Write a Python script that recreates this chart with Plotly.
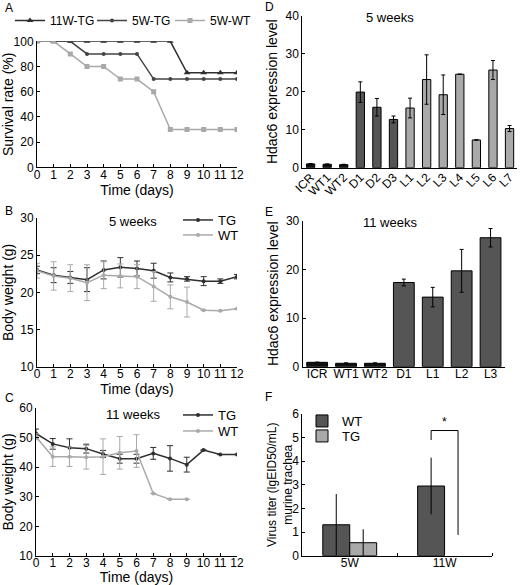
import plotly.graph_objects as go

W, H = 520, 585
FONT = "Liberation Sans, Arial, sans-serif"
DARK = "#2f2f2f"
MID = "#555555"
LIGHT = "#a9a9a9"

# ---- A: survival ----
days = list(range(13))
surv_11w_tg = [100, 100, 100, 100, 100, 100, 100, 100, 100, 75, 75, 75, 75]
surv_5w_tg = [100, 100, 100, 90, 90, 90, 90, 70, 70, 70, 70, 70, 70]
surv_5w_wt = [100, 100, 90, 80, 80, 70, 70, 60, 30, 30, 30, 30, 30]

# ---- B: body weight 5 weeks ----
bw5_tg = [23.0, 22.3, 22.0, 21.7, 23.0, 23.35, 23.2, 22.9, 22.0, 21.8, 21.5, 21.5, 22.1]
bw5_tg_err = [0.5, 1.0, 0.8, 1.6, 1.2, 1.3, 1.0, 1.0, 0.6, 0.3, 0.6, 0.3, 0.3]
bw5_wt = [22.9, 22.2, 21.9, 21.3, 22.3, 22.2, 22.1, 20.8, 19.4, 18.7, 17.6, 17.55, 17.8]
bw5_wt_err = [1.0, 1.9, 1.8, 2.4, 1.8, 1.6, 1.6, 2.0, 1.6, 2.0, 0, 0, 0]

# ---- C: body weight 11 weeks ----
bw11_tg = [51.3, 47.8, 46.5, 46.2, 44.4, 42.8, 42.8, 44.6, 42.9, 40.8, 45.7, 44.2, 44.2]
bw11_tg_err = [1.5, 1.8, 3.0, 1.5, 1.2, 1.5, 1.5, 2.0, 4.3, 2.5, 0, 0, 0]
days_wt11 = list(range(10))
bw11_wt = [50.2, 43.5, 43.5, 43.3, 43.5, 44.8, 45.4, 31.1, 29.1, 29.1]
bw11_wt_err = [1.0, 3.3, 3.3, 4.0, 6.0, 5.5, 5.5, 0, 0, 0]

# ---- D: Hdac6 5 weeks ----
d_cats = ["ICR", "WT1", "WT2", "D1", "D2", "D3", "L1", "L2", "L3", "L4", "L5", "L6", "L7"]
d_vals = [1.0, 0.9, 0.8, 19.9, 15.9, 12.7, 15.7, 23.2, 19.2, 24.6, 7.3, 25.7, 10.3]
d_err = [0.1, 0.1, 0.1, 2.7, 2.3, 0.9, 2.6, 6.5, 5.2, 0, 0, 2.5, 0.8]
d_group = ["ctrl"] * 3 + ["D"] * 3 + ["L"] * 7

# ---- E: Hdac6 11 weeks ----
e_cats = ["ICR", "WT1", "WT2", "D1", "L1", "L2", "L3"]
e_vals = [0.9, 0.7, 0.7, 17.3, 14.3, 19.7, 26.5]
e_err = [0.05, 0.1, 0.1, 0.7, 2.0, 4.4, 1.9]
e_group = ["ctrl"] * 3 + ["D"] * 4

# ---- F: virus titer (TG at 11W not detected) ----
f_cats = ["5W", "11W"]
f_wt = [1.31, 2.95]
f_wt_err = [1.3, 1.2]
f_tg = [0.55, None]
f_tg_err = [0.57, None]

grp_color = {"ctrl": "#111111", "D": MID, "L": LIGHT}


def px_x(a, b):
    return [a / W, b / W]


def px_y(top, bottom):
    return [1 - bottom / H, 1 - top / H]


def axis(domain, anchor, **kw):
    base = dict(domain=domain, anchor=anchor, showline=True, linecolor="black",
                linewidth=1, ticks="inside", ticklen=3, tickcolor="black",
                showgrid=False, zeroline=False, automargin=False,
                tickfont=dict(size=12, color="black"))
    base.update(kw)
    return base


def line_trace(x, y, name, color, legend, xa, ya, symbol="circle", size=4, err=None):
    kw = {}
    if err is not None:
        kw["error_y"] = dict(type="data", array=err, color=color, thickness=1, width=3)
    return go.Scatter(x=x, y=y, name=name, mode="lines+markers",
                      line=dict(color=color, width=1.5),
                      marker=dict(symbol=symbol, size=size, color=color),
                      xaxis=xa, yaxis=ya, legend=legend, **kw)


fig = go.Figure()

# A
fig.add_trace(line_trace(days, surv_11w_tg, "11W-TG", DARK, "legend", "x", "y", "triangle-up", 6))
fig.add_trace(line_trace(days, surv_5w_tg, "5W-TG", "#444444", "legend2", "x", "y"))
fig.add_trace(line_trace(days, surv_5w_wt, "5W-WT", LIGHT, "legend3", "x", "y", "square", 5))

# B
fig.add_trace(line_trace(days, bw5_tg, "TG", DARK, "legend4", "x2", "y2", err=bw5_tg_err))
fig.add_trace(line_trace(days, bw5_wt, "WT", LIGHT, "legend5", "x2", "y2", err=bw5_wt_err))

# C
fig.add_trace(line_trace(days, bw11_tg, "TG", DARK, "legend6", "x3", "y3", err=bw11_tg_err))
fig.add_trace(line_trace(days_wt11, bw11_wt, "WT", LIGHT, "legend7", "x3", "y3", err=bw11_wt_err))

# D
fig.add_trace(go.Bar(x=d_cats, y=d_vals, width=0.5,
                     marker=dict(color=[grp_color[g] for g in d_group], line=dict(color="black", width=1)),
                     error_y=dict(type="data", array=d_err, color="black", thickness=1, width=2),
                     showlegend=False, xaxis="x4", yaxis="y4"))

# E
fig.add_trace(go.Bar(x=e_cats, y=e_vals, width=0.72,
                     marker=dict(color=[grp_color[g] for g in e_group], line=dict(color="black", width=1)),
                     error_y=dict(type="data", array=e_err, color="black", thickness=1, width=2),
                     showlegend=False, xaxis="x5", yaxis="y5"))

# F
fig.add_trace(go.Bar(x=[0, 1], y=f_wt, name="WT", width=0.284, offset=-0.284,
                     marker=dict(color=MID, line=dict(color="black", width=1)),
                     error_y=dict(type="data", array=f_wt_err, color="black", thickness=1, width=0),
                     xaxis="x6", yaxis="y6", legend="legend8"))
fig.add_trace(go.Bar(x=[0, 1], y=f_tg, name="TG", width=0.284, offset=0,
                     marker=dict(color=LIGHT, line=dict(color="black", width=1)),
                     error_y=dict(type="data", array=f_tg_err, color="black", thickness=1, width=0),
                     xaxis="x6", yaxis="y6", legend="legend9"))


def leg(x, top, size=13):
    return dict(x=x / W, y=1 - top / H, xanchor="left", yanchor="top",
                font=dict(size=size, color="black"), bgcolor="rgba(0,0,0,0)", borderwidth=0)


fig.update_layout(
    width=W, height=H,
    margin=dict(l=0, r=0, t=0, b=0, autoexpand=False),
    paper_bgcolor="white", plot_bgcolor="white",
    font=dict(family=FONT, size=12, color="black"),
    barmode="overlay",
    xaxis=axis(px_x(37, 237), "y", range=[0, 12], dtick=1, ticklabelstandoff=-4,
               title=dict(text="Time (days)", standoff=0)),
    yaxis=axis(px_y(41.3, 167.3), "x", range=[0, 100], dtick=20,
               title=dict(text="Survival rate (%)", standoff=4)),
    xaxis2=axis(px_x(37, 237), "y2", range=[0, 12], dtick=1, ticklabelstandoff=-4,
                title=dict(text="Time (days)", standoff=0)),
    yaxis2=axis(px_y(217.7, 367), "x2", range=[10, 30], dtick=5,
                title=dict(text="Body weight (g)", standoff=4)),
    xaxis3=axis(px_x(36, 237), "y3", range=[0, 12], dtick=1, ticklabelstandoff=-4,
                title=dict(text="Time (days)", standoff=0)),
    yaxis3=axis(px_y(407.7, 556), "x3", range=[10, 60], dtick=10,
                title=dict(text="Body weight (g)", standoff=4)),
    xaxis4=axis(px_x(302.3, 517), "y4", range=[-0.5, 12.45], tickangle=-45, ticks="",
                ticklabelstandoff=-3),
    yaxis4=axis(px_y(15.7, 167.7), "x4", range=[0, 40], dtick=10,
                title=dict(text="Hdac6 expression level", standoff=4)),
    xaxis5=axis(px_x(302.7, 505), "y5", range=[-0.5, 6.5], ticks="", tickangle=0,
                ticklabelstandoff=-4),
    yaxis5=axis(px_y(220.7, 366.7), "x5", range=[0, 30], dtick=10,
                title=dict(text="Hdac6 expression level", standoff=4)),
    xaxis6=axis(px_x(302.3, 492), "y6", range=[-0.5, 1.5], tickvals=[0, 1], ticktext=f_cats, ticks="",
                ticklabelstandoff=-4,
                minor=dict(tickvals=[0.5, 1.5], ticks="inside", ticklen=3, tickcolor="black")),
    yaxis6=axis(px_y(414, 555.7), "x6", range=[0, 6], dtick=1),
    legend=leg(10, 6, 12),
    legend2=leg(92, 6, 12),
    legend3=leg(170, 6, 12),
    legend4=leg(178, 205),
    legend5=leg(178, 220),
    legend6=leg(178, 400),
    legend7=leg(178, 416),
    legend8=leg(302, 406),
    legend9=leg(302, 421),
)

# F y-axis title placed as rotated text next to the axis
fig.add_annotation(text="Virus titer (lgEID50/mL)<br>murine trachea", x=280 / W, y=1 - 485 / H,
                   xref="paper", yref="paper", textangle=-90, showarrow=False,
                   xanchor="center", yanchor="middle", font=dict(size=12))

# titles inside panels
for text, x, y in [("5 weeks", 133, 221), ("11 weeks", 133, 414),
                   ("5 weeks", 390, 17), ("11 weeks", 390, 222)]:
    fig.add_annotation(text=text, x=x / W, y=1 - y / H, xref="paper", yref="paper",
                       xanchor="center", yanchor="middle", showarrow=False, font=dict(size=13))

# panel letters
for text, x, y in [("A", 3, 8), ("B", 3, 211), ("C", 3, 398),
                   ("D", 263, 7), ("E", 263, 212), ("F", 263, 397)]:
    fig.add_annotation(text=text, x=x / W, y=1 - y / H, xref="paper", yref="paper",
                       xanchor="left", yanchor="middle", showarrow=False, font=dict(size=12))

# significance bracket in F
fig.add_shape(type="path", path="M 0.858,4.9 L 0.858,5.3 L 1.142,5.3 L 1.142,0.88",
              xref="x6", yref="y6", line=dict(color="black", width=1))
fig.add_annotation(text="*", x=1.0, y=5.3, xref="x6", yref="y6", yanchor="bottom",
                   showarrow=False, font=dict(size=12))

fig.write_html("out.html", config={"displayModeBar": False},
               post_script="document.body.style.margin='0px';")
